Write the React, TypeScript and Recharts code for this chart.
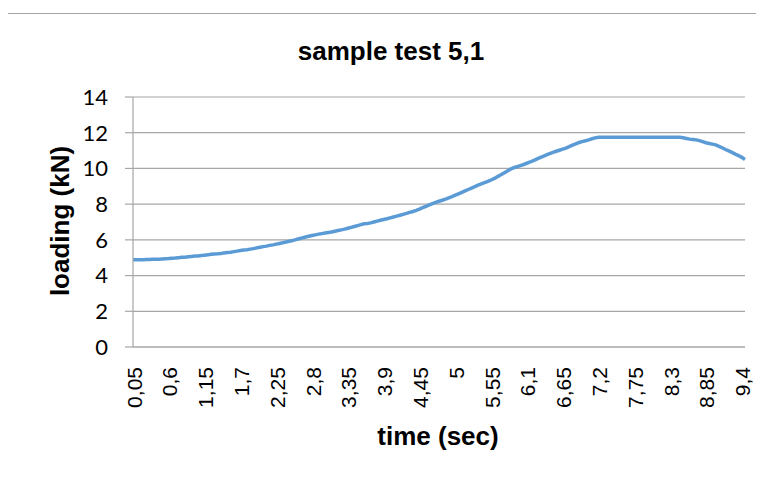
import React from 'react';
import { LineChart, Line, XAxis, YAxis, CartesianGrid } from 'recharts';

// loading (kN) sampled every 0.05 s, from 0.05 s to 9.45 s
const loading: number[] = [
  4.88, 4.88, 4.89, 4.89, 4.9, 4.9, 4.91, 4.92, 4.92, 4.93,
  4.94, 4.95, 4.97, 4.98, 5.0, 5.02, 5.03, 5.05, 5.07, 5.09,
  5.1, 5.12, 5.14, 5.16, 5.19, 5.21, 5.22, 5.24, 5.27, 5.29,
  5.31, 5.34, 5.37, 5.4, 5.43, 5.45, 5.48, 5.51, 5.55, 5.59,
  5.62, 5.65, 5.69, 5.72, 5.76, 5.8, 5.84, 5.88, 5.92, 5.96,
  6.01, 6.06, 6.11, 6.16, 6.2, 6.24, 6.28, 6.32, 6.35, 6.38,
  6.41, 6.44, 6.48, 6.52, 6.56, 6.6, 6.65, 6.7, 6.75, 6.8,
  6.85, 6.9, 6.92, 6.95, 7.0, 7.05, 7.1, 7.14, 7.18, 7.23,
  7.28, 7.33, 7.38, 7.43, 7.48, 7.54, 7.59, 7.65, 7.72, 7.8,
  7.88, 7.96, 8.03, 8.1, 8.16, 8.22, 8.28, 8.35, 8.42, 8.5,
  8.58, 8.66, 8.74, 8.82, 8.9, 8.98, 9.06, 9.13, 9.2, 9.27,
  9.35, 9.44, 9.54, 9.64, 9.75, 9.86, 9.96, 10.04, 10.1, 10.16,
  10.22, 10.29, 10.36, 10.44, 10.52, 10.6, 10.68, 10.76, 10.83, 10.9,
  10.96, 11.02, 11.08, 11.14, 11.22, 11.3, 11.38, 11.45, 11.5, 11.55,
  11.6, 11.66, 11.71,
  11.75, 11.75, 11.75, 11.75, 11.75,
  11.75, 11.75, 11.75, 11.75, 11.75,
  11.75, 11.75, 11.75, 11.75, 11.75,
  11.75, 11.75, 11.75, 11.75, 11.75,
  11.75, 11.75, 11.75, 11.75, 11.75,
  11.74, 11.72, 11.68, 11.64, 11.62, 11.6, 11.56, 11.5, 11.44, 11.4, 11.36, 11.32,
  11.24, 11.16, 11.06, 10.98, 10.9, 10.8, 10.72, 10.62, 10.5,
];

// time categories (sec), shown with a decimal comma
const times: string[] = loading.map((_, i) =>
  String(Number(((i + 1) * 0.05).toFixed(2))).replace('.', ',')
);

const yTicks: number[] = [0, 2, 4, 6, 8, 10, 12, 14];

const chartTitle = 'sample test 5,1';
const xTitle = 'time (sec)';
const yTitle = 'loading (kN)';

const data = times.map((t, i) => ({ time: t, loading: loading[i] }));

const XTick = (props: any) => {
  const { x, payload } = props;
  const y = 353;
  return (
    <text
      x={x + 1}
      y={y}
      transform={`rotate(-90, ${x + 1}, ${y})`}
      textAnchor="end"
      dominantBaseline="central"
      fontFamily="'Liberation Sans', Arial, sans-serif"
      fontSize={21}
      fill="#000"
    >
      {payload.value}
    </text>
  );
};

export default function App() {
  return (
    <div
      style={{
        position: 'relative',
        width: 770,
        height: 470,
        marginLeft: -1,
        marginTop: 5,
        borderLeft: '1px solid #a6a6a6',
        borderTop: '1px solid #a6a6a6',
        background: '#fff',
      }}
    >
      <LineChart
        width={760}
        height={460}
        data={data}
        margin={{ top: 83, right: 23, left: 0, bottom: 0 }}
      >
        <CartesianGrid vertical={false} stroke="#a6a6a6" strokeWidth={1.2} />
        <XAxis
          dataKey="time"
          interval={10}
          tickLine={false}
          axisLine={{ stroke: '#a6a6a6', strokeWidth: 1.2 }}
          height={127}
          tick={<XTick />}
          label={{
            content: () => (
              <text
                x={430}
                y={431}
                textAnchor="middle"
                fontFamily="'Liberation Sans', Arial, sans-serif"
                fontWeight="bold"
                fontSize={26}
                fill="#000"
              >
                {xTitle}
              </text>
            ),
          }}
        />
        <YAxis
          domain={[0, 14]}
          ticks={yTicks}
          width={125}
          tickSize={8}
          tickMargin={17}
          tickLine={{ stroke: '#a6a6a6', strokeWidth: 1.2 }}
          axisLine={{ stroke: '#a6a6a6', strokeWidth: 1.2 }}
          tick={{ fontFamily: 'Lato, sans-serif', fontSize: 22, fill: '#000' }}
          label={{
            content: () => (
              <text
                x={52}
                y={207}
                transform="rotate(-90, 52, 207)"
                textAnchor="middle"
                dominantBaseline="central"
                fontFamily="'Liberation Sans', Arial, sans-serif"
                fontWeight="bold"
                fontSize={26}
                fill="#000"
              >
                {yTitle}
              </text>
            ),
          }}
        />
        <Line
          type="linear"
          dataKey="loading"
          stroke="#5b9bd5"
          strokeWidth={3.5}
          dot={false}
          isAnimationActive={false}
        />
      </LineChart>
      <div
        style={{
          position: 'absolute',
          left: 0,
          top: 24,
          width: 766,
          textAlign: 'center',
          fontFamily: "'Liberation Sans', Arial, sans-serif",
          fontWeight: 'bold',
          fontSize: 26,
          lineHeight: '26px',
          color: '#000',
        }}
      >
        {chartTitle}
      </div>
    </div>
  );
}
